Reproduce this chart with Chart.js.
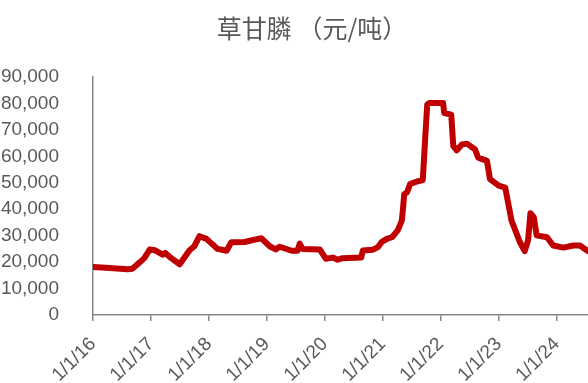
<!DOCTYPE html>
<html>
<head>
<meta charset="utf-8">
<script src="https://cdn.jsdelivr.net/npm/chart.js@4/dist/chart.umd.min.js"></script>
<style>
  html, body { margin: 0; padding: 0; background: #fff; }
  #wrap { width: 588px; height: 383px; }
</style>
</head>
<body>
<div id="wrap"><canvas id="chart" width="588" height="383"></canvas></div>
<script>
// Glyphosate price, yuan per ton
const dates = [
  '2016-01-01', '2016-04-15', '2016-08-05', '2016-09-05', '2016-10-20', '2016-11-20', '2016-12-25',
  '2017-01-25', '2017-03-15', '2017-04-01', '2017-04-28', '2017-07-01', '2017-09-01', '2017-10-01',
  '2017-11-03', '2017-12-17', '2018-01-18', '2018-02-25', '2018-04-22', '2018-05-22', '2018-08-14',
  '2018-10-16', '2018-11-28', '2019-01-19', '2019-02-25', '2019-03-22', '2019-06-06', '2019-07-13',
  '2019-07-27', '2019-08-14', '2019-11-30', '2020-01-07', '2020-02-20', '2020-03-22', '2020-04-22',
  '2020-08-18', '2020-08-28', '2020-10-31', '2020-12-02', '2020-12-25', '2021-01-26', '2021-02-28',
  '2021-04-05', '2021-05-01', '2021-05-11', '2021-05-16', '2021-06-03', '2021-06-22', '2021-08-04',
  '2021-09-10', '2021-09-24', '2021-10-08', '2021-10-24', '2022-01-16', '2022-01-23', '2022-03-08',
  '2022-03-21', '2022-04-12', '2022-05-14', '2022-06-15', '2022-08-04', '2022-08-25', '2022-10-19',
  '2022-11-07', '2023-01-01', '2023-02-11', '2023-03-23', '2023-05-14', '2023-06-14', '2023-07-05',
  '2023-07-20', '2023-08-10', '2023-08-28', '2023-11-01', '2023-12-10', '2024-02-13', '2024-04-16',
  '2024-05-27', '2024-07-16'
];
const prices = [
  18200, 17800, 17300, 17500, 19800, 21500, 24800,
  24500, 22800, 23500, 22000, 19200, 24500, 26000,
  29800, 28800, 27000, 25000, 24300, 27500, 27600,
  28500, 29000, 26000, 24800, 25800, 24300, 24300,
  27000, 25000, 24800, 21300, 21700, 20900, 21500,
  21700, 24400, 24700, 25700, 27600, 28800, 29400,
  32000, 35700, 42000, 45700, 46400, 49500, 50500,
  51000, 65800, 79600, 80200, 80200, 76400, 75800,
  63900, 62300, 64500, 64800, 62700, 59500, 58300,
  51400, 48900, 48200, 35700, 27600, 24200, 28200,
  38500, 37000, 30100, 29400, 26300, 25500, 26300,
  26300, 24200
];
const yearTicks = [2016, 2017, 2018, 2019, 2020, 2021, 2022, 2023, 2024];
const yTicks = [0, 10000, 20000, 30000, 40000, 50000, 60000, 70000, 80000, 90000];

// date string -> fractional year for the linear x scale
function toYear(d) {
  const [y, m, day] = d.split('-').map(Number);
  const start = Date.UTC(y, 0, 1);
  const end = Date.UTC(y + 1, 0, 1);
  return y + (Date.UTC(y, m - 1, day) - start) / (end - start);
}

const points = dates.map((d, i) => ({ x: toYear(d), y: prices[i] }));
const axisGrey = '#868686';
const textGrey = '#595959';
const tickFont = { family: 'Liberation Sans, Arial, sans-serif', size: 19 };

// the title sits a little right of the canvas centre in the original
const titleShift = {
  id: 'titleShift',
  afterLayout(chart) {
    if (chart.titleBlock) chart.titleBlock.left = 36;
  }
};

new Chart(document.getElementById('chart'), {
  type: 'line',
  data: {
    datasets: [{
      data: points,
      borderColor: '#C00000',
      borderWidth: 6,
      pointRadius: 0,
      tension: 0,
      borderJoinStyle: 'round',
      borderCapStyle: 'round',
      fill: false
    }]
  },
  plugins: [titleShift],
  options: {
    responsive: false,
    animation: false,
    layout: { padding: 0 },
    plugins: {
      legend: { display: false },
      tooltip: { enabled: false },
      title: {
        display: true,
        text: '草甘膦 （元/吨）',
        color: textGrey,
        font: { family: 'Noto Sans CJK SC', size: 25, weight: 'normal', lineHeight: 1.2 },
        padding: { top: 13, bottom: 34 }
      }
    },
    scales: {
      x: {
        type: 'linear',
        min: 2016,
        max: toYear('2024-07-17'),
        afterBuildTicks: scale => { scale.ticks = yearTicks.map(v => ({ value: v })); },
        afterFit: scale => { scale.height = 68; },
        ticks: {
          includeBounds: false,
          minRotation: 45,
          maxRotation: 45,
          autoSkip: false,
          padding: 12,
          color: textGrey,
          font: tickFont,
          callback: v => '1/1/' + String(v).slice(2)
        },
        grid: { display: true, drawOnChartArea: false, drawTicks: true, tickLength: 6, color: axisGrey, lineWidth: 1.5 },
        border: { display: true, color: axisGrey, width: 1.5 }
      },
      y: {
        min: 0,
        max: 90000,
        afterBuildTicks: scale => { scale.ticks = yTicks.map(v => ({ value: v })); },
        afterFit: scale => { scale.width = 93; },
        ticks: {
          padding: 26,
          color: textGrey,
          font: tickFont,
          callback: v => v.toLocaleString('en-US')
        },
        grid: { display: false },
        border: { display: true, color: axisGrey, width: 1.5 }
      }
    }
  }
});
</script>
</body>
</html>
